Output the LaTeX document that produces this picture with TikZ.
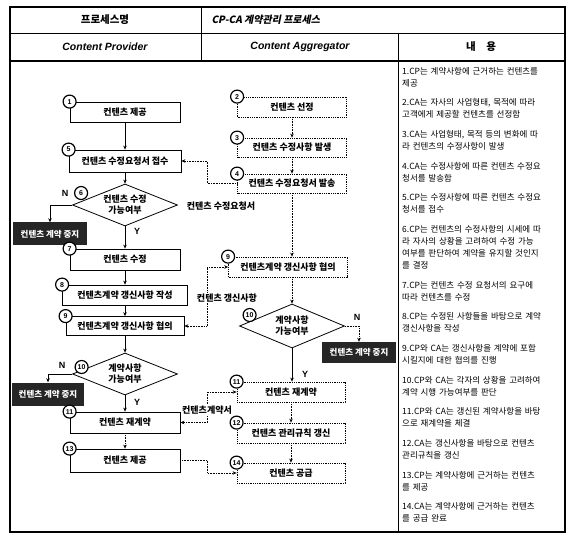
\documentclass[tikz,border=0pt]{standalone}
\usepackage{fontspec}
\setmainfont{Liberation Sans}
\newfontfamily\kr{Noto Sans CJK KR}
\newfontfamily\krslant{Noto Sans CJK KR}[FakeSlant=0.2]
\usetikzlibrary{positioning,arrows.meta,calc,shapes.geometric}
\tikzset{
  flow/.style={-{Stealth[length=4pt,width=3.5pt]},semithick},
  dotflow/.style={-{Stealth[length=4pt,width=3.5pt]},semithick,densely dotted},
  twoflow/.style={{Stealth[length=4pt,width=3.5pt]}-{Stealth[length=4pt,width=3.5pt]},semithick,densely dotted},
  cpbox/.style={draw,thick,minimum height=20pt,inner sep=1pt,
    font=\kr\bfseries\fontsize{9}{10}\selectfont},
  cabox/.style={cpbox,densely dotted},
  decision/.style={diamond,draw,thick,aspect=2.5,minimum width=105pt,minimum height=42pt,
    inner sep=0pt,align=center,font=\kr\bfseries\fontsize{9}{11}\selectfont},
  haltbox/.style={fill=black!85,text=white,minimum width=74pt,minimum height=23pt,inner sep=0pt,
    font=\kr\bfseries\fontsize{8.5}{9}\selectfont},
  numc/.style={circle,draw,line width=1.2pt,fill=white,minimum size=13pt,inner sep=0pt,
    font=\bfseries\fontsize{7}{7}\selectfont},
  lab/.style={fill=white,inner sep=1pt,font=\kr\bfseries\fontsize{9}{10}\selectfont},
  yn/.style={inner sep=0pt,font=\bfseries\fontsize{9}{9}\selectfont},
  desc/.style={align=left,text width=160pt,inner sep=1pt,font=\kr\fontsize{8.5}{12}\selectfont},
  hd/.style={font=\kr\bfseries\fontsize{10.5}{12}\selectfont},
  hdlat/.style={font=\bfseries\itshape\fontsize{10.5}{12}\selectfont}
}
\begin{document}
\begin{tikzpicture}[x=1pt,y=-1pt]
  \useasboundingbox (0,0) rectangle (570,537);
  % table frame
  \draw[line width=1.6pt] (10,7) rectangle (565,532);
  \draw[thick] (10,33) -- (565,33);
  \draw[line width=1.4pt] (10,61) -- (565,61);
  \draw[thick] (201,7) -- (201,61);
  \draw[thick] (398,33) -- (398,532);
  \node[hd] (h1) at (105,20) {프로세스명};
  \node[font=\krslant\bfseries\fontsize{10}{12}\selectfont,anchor=west] (h2) at (208,20) {CP-CA 계약관리 프로세스};
  \node[hdlat] (h3) at (105,47) {Content Provider};
  \node[hdlat] (h4) at (300,47) {Content Aggregator};
  \node[hd] (h5) at (481,47) {내\quad 용};

  % Content Provider
  \node[cpbox,minimum width=110pt] (cp1) at (125,112) {컨텐츠 제공};
  \node[cpbox,minimum width=112pt,minimum height=22pt] (cp5) at (125,161) {컨텐츠 수정요청서 접수};
  \node[decision] (chk6) at (125,205) {컨텐츠 수정\\가능여부};
  \node[haltbox] (halt6) at (50,234) {컨텐츠 계약 중지};
  \node[cpbox,minimum width=110pt,minimum height=21pt] (cp7) at (125,259.5) {컨텐츠 수정};
  \node[cpbox,minimum width=125pt] (cp8) at (125,295) {컨텐츠계약 갱신사항 작성};
  \node[cpbox,minimum width=118pt,minimum height=19pt] (cp9) at (125,326) {컨텐츠계약 갱신사항 협의};
  \node[decision] (chk10) at (125,374) {계약사항\\가능여부};
  \node[haltbox,minimum width=72pt] (halt10) at (48,394) {컨텐츠 계약 중지};
  \node[cpbox,minimum width=110pt,minimum height=21pt] (cp11) at (125,422.5) {컨텐츠 재계약};
  \node[cpbox,minimum width=110pt,minimum height=23pt] (cp13) at (125,460.5) {컨텐츠 제공};

  % Content Aggregator
  \node[cabox,minimum width=109pt] (ca2) at (292,107) {컨텐츠 선정};
  \node[cabox,minimum width=109pt,minimum height=19pt] (ca3) at (292,147.5) {컨텐츠 수정사항 발생};
  \node[cabox,minimum width=109pt,minimum height=19pt] (ca4) at (292,183.5) {컨텐츠 수정요청서 발송};
  \node[cabox,minimum width=119pt] (ca9) at (288,267) {컨텐츠계약 갱신사항 협의};
  \node[decision,minimum height=44pt] (chk10a) at (292,326) {계약사항\\가능여부};
  \node[haltbox,minimum height=21pt] (halt10a) at (359,352.5) {컨텐츠 계약 중지};
  \node[cabox,minimum width=108pt] (ca11) at (291,392) {컨텐츠 재계약};
  \node[cabox,minimum width=108pt] (ca12) at (291,433) {컨텐츠 관리규칙 갱신};
  \node[cabox,minimum width=108pt] (ca14) at (291,473) {컨텐츠 공급};

  % step numbers
  \node[numc] (k1) at (cp1.north west) {1};
  \node[numc] (k5) at (cp5.north west) {5};
  \node[numc,xshift=9pt,yshift=12pt] (k6) at (chk6.west) {6};
  \node[numc] (k7) at (cp7.north west) {7};
  \node[numc] (k8) at (cp8.north west) {8};
  \node[numc] (k9) at (cp9.north west) {9};
  \node[numc,xshift=9.5pt,yshift=7pt] (k10) at (chk10.west) {10};
  \node[numc] (k11) at (cp11.north west) {11};
  \node[numc] (k13) at (cp13.north west) {13};
  \node[numc] (k2) at (ca2.north west) {2};
  \node[numc] (k3) at (ca3.north west) {3};
  \node[numc] (k4) at (ca4.north west) {4};
  \node[numc] (k9a) at (ca9.north west) {9};
  \node[numc,xshift=10.5pt,yshift=11pt] (k10a) at (chk10a.west) {10};
  \node[numc] (k11a) at (ca11.north west) {11};
  \node[numc] (k12) at (ca12.north west) {12};
  \node[numc] (k14) at (ca14.north west) {14};

  % CP flow
  \draw[flow] (cp1) -- (cp5);
  \draw[flow] (cp5) -- (chk6);
  \draw[flow] (chk6) -- (cp7);
  \draw[flow] (chk6.west) -| (halt6.north);
  \draw[flow] (cp7) -- (cp8);
  \draw[flow] (cp8) -- (cp9);
  \draw[flow] (cp9) -- (chk10);
  \draw[flow] (chk10.west) -| (halt10.north);
  \draw[flow] (chk10) -- (cp11);
  \draw[dotflow] (cp11) -- (cp13);
  % CA flow
  \draw[dotflow] (ca2) -- (ca3);
  \draw[dotflow] (ca3) -- (ca4);
  \draw[dotflow] (ca4.south) -- (ca4.south |- ca9.north);
  \draw[dotflow] (chk10a.north |- ca9.south) -- (chk10a.north);
  \draw[dotflow] (chk10a.east) -| (halt10a.north);
  \draw[flow] (chk10a.south) -- (chk10a.south |- ca11.north);
  \draw[dotflow] (ca11) -- (ca12);
  \draw[dotflow] (ca12) -- (ca14);
  % exchanges
  \draw[dotflow] (ca4.west) -- ++(-30,0) |- (cp5.east);
  \draw[twoflow] (ca9.west) -- ++(-21,0) |- (cp9.east);
  \draw[twoflow] (cp11.east) -- ++(27,0) |- (ca11.west);
  \draw[dotflow] (cp13.east) -- ++(27,0) |- (ca14.west);
  \node[lab] (l1) at (221,206) {컨텐츠 수정요청서};
  \node[lab] (l2) at (227,298) {컨텐츠 갱신사항};
  \node[lab] (l3) at (207,410) {컨텐츠계약서};
  \node[yn] (n6) at (65,193) {N};
  \node[yn] (y6) at (137,231) {Y};
  \node[yn] (n10) at (62,365) {N};
  \node[yn] (y10) at (137,402) {Y};
  \node[yn] (n10a) at (357,317) {N};
  \node[yn] (y10a) at (305,374) {Y};

  % descriptions
  \node[desc,anchor=north west] (t1) at (401,66) {1.CP는 계약사항에 근거하는 컨텐츠를\\제공};
  \node[desc,below=9.5pt of t1.south west,anchor=north west] (t2) {2.CA는 자사의 사업형태, 목적에 따라\\고객에게 제공할 컨텐츠를 선정함};
  \node[desc,below=9.5pt of t2.south west,anchor=north west] (t3) {3.CA는 사업형태, 목적 등의 변화에 따\\라 컨텐츠의 수정사항이 발생};
  \node[desc,below=9.5pt of t3.south west,anchor=north west] (t4) {4.CA는 수정사항에 따른 컨텐츠 수정요\\청서를 발송함};
  \node[desc,below=9.5pt of t4.south west,anchor=north west] (t5) {5.CP는 수정사항에 따른 컨텐츠 수정요\\청서를 접수};
  \node[desc,below=9.5pt of t5.south west,anchor=north west] (t6) {6.CP는 컨텐츠의 수정사항의 시세에 따\\라 자사의 상황을 고려하여 수정 가능\\여부를 판단하여 계약을 유지할 것인지\\를 결정};
  \node[desc,below=9.5pt of t6.south west,anchor=north west] (t7) {7.CP는 컨텐츠 수정 요청서의 요구에\\따라 컨텐츠를 수정};
  \node[desc,below=9.5pt of t7.south west,anchor=north west] (t8) {8.CP는 수정된 사항들을 바탕으로 계약\\갱신사항을 작성};
  \node[desc,below=9.5pt of t8.south west,anchor=north west] (t9) {9.CP와 CA는 갱신사항을 계약에 포함\\시킬지에 대한 협의를 진행};
  \node[desc,below=9.5pt of t9.south west,anchor=north west] (t10) {10.CP와 CA는 각자의 상황을 고려하여\\계약 시행 가능여부를 판단};
  \node[desc,below=9.5pt of t10.south west,anchor=north west] (t11) {11.CP와 CA는 갱신된 계약사항을 바탕\\으로 재계약을 체결};
  \node[desc,below=9.5pt of t11.south west,anchor=north west] (t12) {12.CA는 갱신사항을 바탕으로 컨텐츠\\관리규칙을 갱신};
  \node[desc,below=9.5pt of t12.south west,anchor=north west] (t13) {13.CP는 계약사항에 근거하는 컨텐츠\\를 제공};
  \node[desc,below=9.5pt of t13.south west,anchor=north west] (t14) {14.CA는 계약사항에 근거하는 컨텐츠\\를 공급 완료};
\end{tikzpicture}
\end{document}
